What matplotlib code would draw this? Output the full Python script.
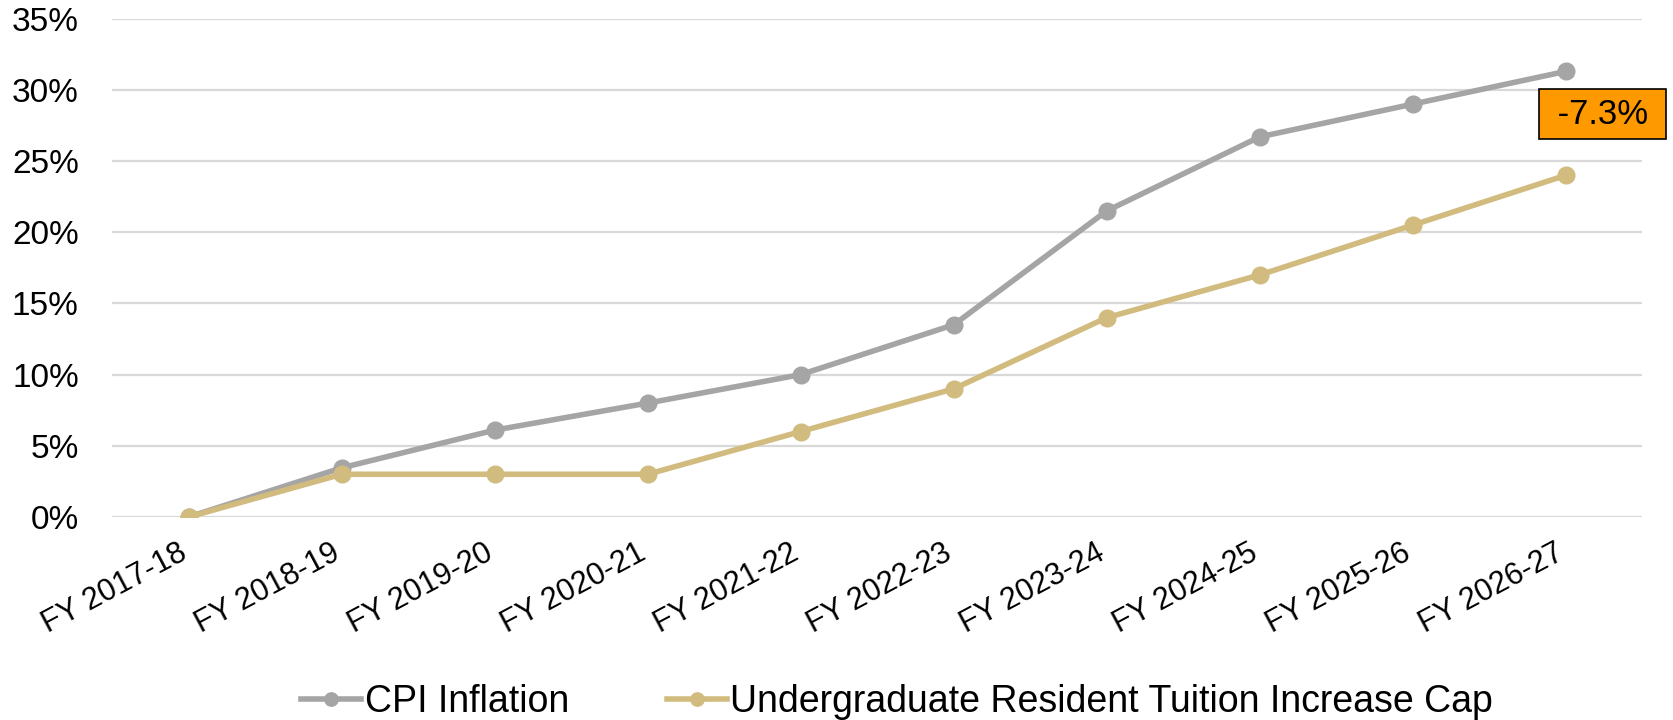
import matplotlib.pyplot as plt
import matplotlib.transforms as mtransforms
from matplotlib.ticker import PercentFormatter

plt.rcParams['font.family'] = ['Liberation Sans', 'DejaVu Sans']

# Datos
years = ["FY 2017-18", "FY 2018-19", "FY 2019-20", "FY 2020-21", "FY 2021-22",
         "FY 2022-23", "FY 2023-24", "FY 2024-25", "FY 2025-26", "FY 2026-27"]
cpi = [0.0, 3.45, 6.1, 8.0, 10.0, 13.5, 21.5, 26.7, 29.0, 31.3]
tuition = [0.0, 3.0, 3.0, 3.0, 6.0, 9.0, 14.0, 17.0, 20.5, 24.0]
gap_label = "-7.3%"

gray = "#A5A5A5"
gold = "#D2BB7E"

fig = plt.figure(figsize=(16.74, 7.2), dpi=100)
ax = fig.add_axes([0.067, 0.282, 0.914, 0.692])

x = range(len(years))
ax.plot(x, cpi, color=gray, lw=4, marker="o", ms=12, label="CPI Inflation")
ax.plot(x, tuition, color=gold, lw=4, marker="o", ms=12,
        label="Undergraduate Resident Tuition Increase Cap")

ax.set_xlim(-0.5, len(years) - 0.5)
ax.set_ylim(0, 35)
ax.set_yticks(range(0, 36, 5))
ax.yaxis.set_major_formatter(PercentFormatter(decimals=0))
ax.set_xticks(list(x))
ax.set_xticklabels(years, rotation=28, ha="right", va="top", rotation_mode="anchor")

ax.grid(axis="y", color="#D9D9D9", lw=1.6)
ax.set_axisbelow(True)
for s in ax.spines.values():
    s.set_visible(False)
ax.tick_params(axis="both", length=0)
ax.tick_params(axis="y", pad=24, labelsize=24)
ax.tick_params(axis="x", pad=15, labelsize=22)

# mover etiquetas un poco a la izquierda
shift = mtransforms.ScaledTranslation(-0.11, 0, fig.dpi_scale_trans)
for lbl in ax.get_xticklabels():
    lbl.set_transform(lbl.get_transform() + shift)

# Caja con la diferencia final
ax.text(len(years) - 1 + 0.24, (cpi[-1] + tuition[-1]) / 2 + 0.65, " " + gap_label + " ",
        fontsize=25, ha="center", va="center",
        bbox=dict(boxstyle="square,pad=0.24", fc="#FF9900", ec="black", lw=1.2))

fig.legend(loc="center", bbox_to_anchor=(0.536, 0.025), ncol=2, frameon=False,
           fontsize=27, handlelength=1.6, handletextpad=0.1, columnspacing=2.6,
           markerscale=0.8)

fig.savefig("out.png", dpi=100)
